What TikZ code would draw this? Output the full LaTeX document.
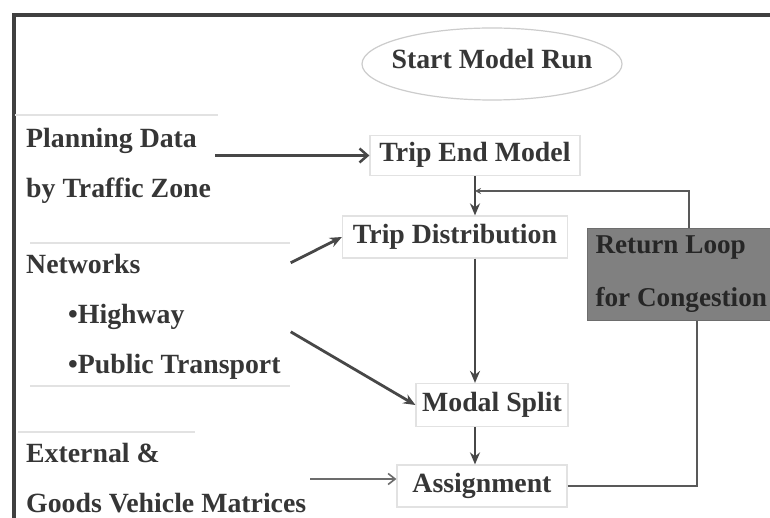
\documentclass[tikz,border=0pt]{standalone}
\usepackage{fontspec}
\setmainfont{Liberation Serif}
\usetikzlibrary{arrows.meta,shapes.geometric}
\definecolor{txt}{HTML}{363636}
\definecolor{ln}{HTML}{474747}
\definecolor{faint}{HTML}{E2E2E2}
\definecolor{rlfill}{HTML}{808080}
\definecolor{rltxt}{HTML}{262626}
\begin{document}
\begin{tikzpicture}[x=1pt,y=-1pt,
  font=\fontsize{27.8}{50}\selectfont\bfseries, text=txt,
  box/.style={draw=faint, line width=1.2pt, rectangle, text height=19pt, text depth=6pt, inner sep=0pt},
  lefttext/.style={anchor=north west, align=left, inner sep=4pt},
  arr/.style={draw=ln, line width=2.8pt, -{Stealth[length=12pt,width=10pt]}},
  barb/.style={draw=ln, line width=2.8pt, -{Straight Barb[length=8pt,width=14pt,line width=2.5pt]}},
  thinarr/.style={draw=ln!80, line width=1.7pt, -{Straight Barb[length=7pt,width=11pt,line width=1.6pt]}},
  loopline/.style={draw=ln!90, line width=2.6pt},
  sep/.style={draw=faint, line width=1.5pt}]
\useasboundingbox (0,0) rectangle (770,518);
\fill[white] (0,0) rectangle (770,518);
% outer frame
\draw[draw=ln!90!black, line width=3.5pt] (14,520) -- (14,15) -- (772,15);
% faint separators
\draw[sep] (15,115) -- (218,115);
\draw[sep] (30,243) -- (290,243);
\draw[sep] (30,386) -- (290,386);
\draw[sep] (18,432) -- (195,432);
% nodes
\node[text height=19pt, text depth=6pt, inner sep=0pt] (start) at (492,62) {Start Model Run};
\draw[draw=gray!40, line width=1.2pt] (492,64) ellipse [x radius=130, y radius=36];
\node[box, minimum width=210pt, minimum height=40pt] (tem) at (475,155.5) {Trip End Model};
\node[box, minimum width=225pt, minimum height=42pt] (td) at (455,237) {Trip Distribution};
\node[box, minimum width=152pt, minimum height=43pt] (ms) at (492,405) {Modal Split};
\node[box, minimum width=170pt, minimum height=42pt] (as) at (482,486) {Assignment};
\node[rectangle, fill=rlfill, draw=rlfill!85!black, line width=1pt, text=rltxt, font=\fontsize{27.2}{53}\selectfont\bfseries, align=left, inner xsep=8pt, inner ysep=0pt, minimum width=186pt, minimum height=92pt, anchor=north west] (rl) at (587,228) {Return Loop\\for Congestion};
\node[lefttext] (pd) at (22,124) {Planning Data\\by Traffic Zone};
\node[lefttext] (net) at (22,250) {Networks\\\hspace*{42pt}\textbullet Highway\\\hspace*{42pt}\textbullet Public Transport};
\node[lefttext] (ext) at (22,439) {External \&\\Goods Vehicle Matrices};
% coordinates
\coordinate (col) at (475,0);
\coordinate (ret) at (475,191);
\coordinate (topx) at (689,0);
\coordinate (botx) at (697,0);
\coordinate (ea) at ([yshift=7pt]as.west);
% connectors
\draw[barb] (pd.east |- tem.west) -- (tem.west);
\draw[arr] (tem.south -| col) -- (td.north -| col);
\draw[arr] (td.south -| col) -- (ms.north -| col);
\draw[arr] (ms.south -| col) -- (as.north -| col);
\draw[arr] ([xshift=6pt,yshift=54pt]net.east) -- (td.west);
\draw[arr] ([xshift=6pt,yshift=-15pt]net.east) -- (ms.west);
\draw[thinarr] (ext.east |- ea) -- (ea);
\draw[loopline, -{Stealth[length=6pt,width=6pt]}] (rl.north -| topx) |- (ret);
\draw[loopline] (as.east) -| (rl.south -| botx);
\end{tikzpicture}
\end{document}
